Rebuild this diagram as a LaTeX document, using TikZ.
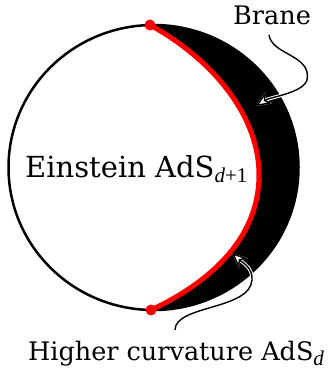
\documentclass[tikz,border=0pt]{standalone}
\usepackage{fontspec}
\setmainfont{DejaVu Serif}
\newfontfamily\subfont{Liberation Serif}
\usetikzlibrary{arrows.meta}
\definecolor{brred}{RGB}{255,0,0}
\newcommand{\lowsub}[2]{\raisebox{-5pt}{\fontsize{#1}{#1}\selectfont\subfont #2}}
\begin{document}
\begin{tikzpicture}[x=1pt,y=-1pt,
  lbl/.style={inner sep=0pt},
  tipshape/.style={-{Stealth[open,length=15pt,width=13pt,inset=4pt]}},
  pointer/.style={line width=1.4pt, tipshape,
    preaction={draw=white, line width=3.4pt, tipshape}},
  dot/.style={circle, fill=brred, inner sep=0pt, minimum size=11pt}]
\useasboundingbox (0,0) rectangle (332,371);
\coordinate (c) at (153.5,167.5);
\coordinate (T) at (150,25);
\coordinate (B) at (151,310);
\coordinate (M) at (259,175);
% crescent
\fill[black] (T) .. controls (205,55) and (259,110) .. (M) .. controls (259,235) and (215,280) .. (B)
  arc[start angle=91, end angle=-91, x radius=145, y radius=142.5] -- cycle;
\draw[line width=2.5pt] (c) ellipse[x radius=145, y radius=142.5];
\draw[brred, line width=5pt] (T) .. controls (205,55) and (259,110) .. (M) .. controls (259,235) and (215,280) .. (B);
\node[dot] (t) at (T) {};
\node[dot] (b) at (B) {};
% labels
\node[lbl, anchor=base west, font=\fontsize{25.5}{30}\selectfont] (brane) at (233,25) {Brane};
\node[lbl, anchor=base west, font=\fontsize{29}{34}\selectfont] (ein) at (25,177.5) {Einstein AdS\lowsub{21}{\textit{d}+1}};
\node[lbl, anchor=base west, font=\fontsize{25.5}{30}\selectfont] (hc) at (28,360) {Higher curvature AdS\lowsub{21}{\textit{d}}};
% pointers
\coordinate (a1s) at (269,35);
\coordinate (a1e) at (256,106);
\coordinate (a2s) at (175,330);
\coordinate (a2e) at (232,253);
\draw[pointer] (a1s) .. controls (272,55) and (312,55) .. (307,80) .. controls (303,93) and (270,97) .. (a1e);
\draw[pointer] (a2s) .. controls (175,305) and (250,310) .. (252,280) .. controls (253,268) and (243,263) .. (a2e);
\end{tikzpicture}
\end{document}
